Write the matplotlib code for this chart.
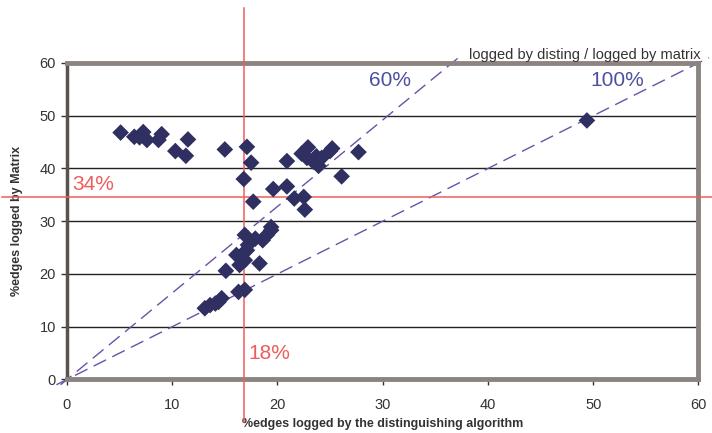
import matplotlib
matplotlib.use("Agg")
import matplotlib.pyplot as plt
from matplotlib import font_manager

names = {f.name for f in font_manager.fontManager.ttflist}
narrow = "Liberation Sans Narrow" if "Liberation Sans Narrow" in names else "Liberation Sans"
plt.rcParams['font.family'] = ['Liberation Sans', 'DejaVu Sans']

# data
x_disting = [5.1, 6.4, 7.25, 6.9, 7.6, 9.0, 8.7, 10.3, 11.5, 11.3, 15.0, 17.1, 17.5, 16.8, 17.7,
             20.9, 19.6, 20.9, 21.6, 22.5, 22.6, 22.3, 22.9, 23.7, 23.9, 23.4, 22.8, 24.2, 25.2,
             25.0, 26.1, 27.7, 49.4, 19.4, 19.4, 19.0, 18.6, 16.9, 17.9, 17.2, 16.1, 16.9, 17.1,
             15.1, 16.4, 18.3, 16.9, 16.3, 16.9, 13.1, 13.6, 14.1, 14.4, 14.7]
y_matrix = [46.8, 46.0, 46.9, 45.9, 45.4, 46.5, 45.4, 43.3, 45.5, 42.4, 43.6, 44.1, 41.1, 38.0, 33.7,
            41.4, 36.1, 36.6, 34.3, 34.6, 32.2, 42.8, 44.0, 42.3, 40.5, 41.3, 42.0, 42.0, 43.8,
            43.3, 38.5, 43.1, 49.1, 28.9, 28.3, 27.4, 26.4, 27.4, 26.7, 25.5, 23.6, 24.2, 24.5,
            20.6, 21.7, 22.0, 22.6, 16.6, 17.0, 13.5, 14.1, 14.4, 14.7, 15.4]
ratios = [0.6, 1.0]
ratio_labels = ["60%", "100%"]
avg_x = 16.85
avg_y = 34.6
avg_x_label = "18%"
avg_y_label = "34%"
ticks = [0, 10, 20, 30, 40, 50, 60]

fig = plt.figure(figsize=(7.12, 4.33), dpi=100)
ax = fig.add_axes([0.094, 0.1236, 0.887, 0.731])
ax.set_xlim(0, 60)
ax.set_ylim(0, 60)

for t in ticks[1:-1]:
    ax.axhline(t, color='#222222', lw=1.0, zorder=1)

purple = '#6A52A8'
for r in ratios:
    if r == 1.0:
        x_end, y_end = 61, 61
    else:
        y_end = 61.2
        x_end = y_end * r + 0.6
    ax.plot([-1.0 * r, x_end], [-1.0, y_end], color=purple, lw=1.0,
            dashes=(10, 5), clip_on=False, zorder=2)

ax.text(30.7, 56.6, ratio_labels[0], color='#4F4FA0', fontsize=15, ha='center', va='center')
ax.text(52.3, 56.6, ratio_labels[1], color='#4F4FA0', fontsize=15, ha='center', va='center')
ax.text(60.2, 60.2, "logged by disting / logged by matrix", color='#333333', fontsize=10.5,
        family=narrow, ha='right', va='bottom')

red = '#F05C5C'
ax.plot([avg_x, avg_x], [-8.0, 70.5], color=red, lw=1.1, clip_on=False, zorder=3)
ax.plot([-6.2, 61.5], [avg_y, avg_y], color=red, lw=1.1, clip_on=False, zorder=3)
ax.text(0.5, avg_y + 0.6, avg_y_label, color=red, fontsize=15, ha='left', va='bottom')
ax.text(avg_x + 0.4, 4.9, avg_x_label, color=red, fontsize=15, ha='left', va='center')

ax.scatter(x_disting, y_matrix, marker='D', s=72, color='#2F2F62', edgecolors='none', zorder=4)

for side in ['top', 'right', 'bottom']:
    ax.spines[side].set_color('#8C8481')
    ax.spines[side].set_linewidth(3.5)
ax.spines['left'].set_color('#5A5250')
ax.spines['left'].set_linewidth(2.5)

ax.set_xticks(ticks)
ax.set_yticks(ticks)
ax.tick_params(axis='both', direction='out', length=4, width=1, color='#333333',
               labelsize=10.5, labelcolor='#333333', pad=4)
ax.tick_params(axis='x', pad=9)

ax.set_xlabel("%edges logged by the distinguishing algorithm", fontsize=9, fontweight='bold',
              color='#333333', labelpad=5)
ax.set_ylabel("%edges logged by Matrix", fontsize=9, fontweight='bold', color='#333333',
              labelpad=12)

fig.savefig("out.png", dpi=100)
